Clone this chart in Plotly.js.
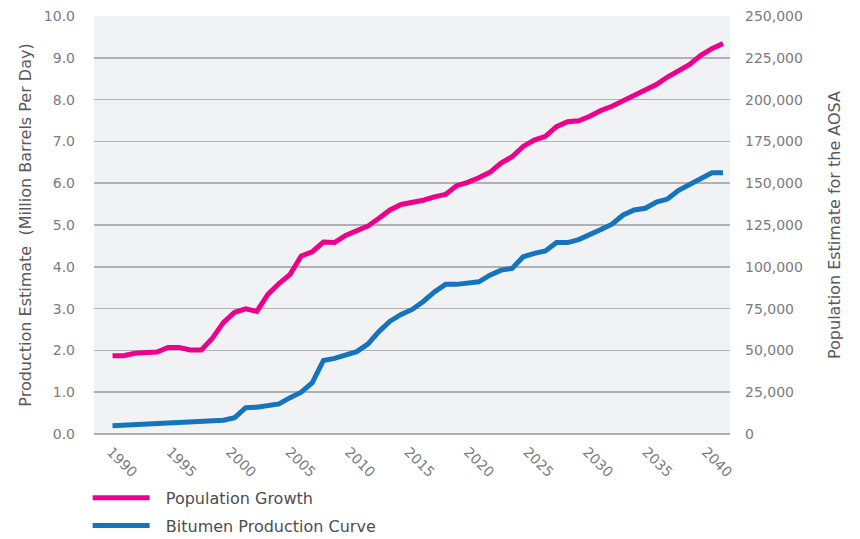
<!DOCTYPE html>
<html>
<head>
<meta charset="utf-8">
<script src="https://cdn.plot.ly/plotly-3.0.1.min.js"></script>
<style>
  html, body { margin: 0; padding: 0; background: #ffffff; }
  #chart { width: 860px; height: 539px; }
</style>
</head>
<body>
<div id="chart"></div>
<script>
// ---- data ----
// point positions along the time axis (the drawn curve has 56 evenly spaced points)
const pointIndex = [0,1,2,3,4,5,6,7,8,9,10,11,12,13,14,15,16,17,18,19,20,21,22,23,24,25,26,27,
  28,29,30,31,32,33,34,35,36,37,38,39,40,41,42,43,44,45,46,47,48,49,50,51,52,53,54,55];

// Population estimate for the AOSA (right axis)
const populationGrowth = [46800,46800,48300,49000,49000,51800,51800,50300,50300,57300,66800,72800,
  74800,73300,83500,90000,95500,106500,109000,114800,114500,118800,121300,124300,129000,134000,
  137300,138500,139800,141800,143300,148500,150500,153300,156500,162000,165800,172000,175800,
  178000,183800,186800,187300,190000,193500,196000,199300,202500,205500,209000,213500,217500,
  221000,226500,230500,233500];

// Bitumen production (million barrels per day, left axis)
const bitumenProduction = [0.20,0.21,0.22,0.23,0.26,0.265,0.27,0.29,0.31,0.32,0.33,0.39,0.63,
  0.64,0.67,0.72,0.87,1.00,1.23,1.76,1.81,1.88,1.97,2.15,2.45,2.70,2.86,2.98,3.17,3.40,3.58,3.58,
  3.62,3.64,3.80,3.92,3.96,4.24,4.32,4.38,4.58,4.58,4.65,4.76,4.89,5.02,5.24,5.36,5.40,5.55,5.62,
  5.83,5.97,6.11,6.25,6.25];

// tick labels
const tickYears = [1990,1995,2000,2005,2010,2015,2020,2025,2030,2035,2040];
const tickYearLabels = ["1990","1995","2000","2005","2010","2015","2020","2025","2030","2035","2040"];
const leftTicks = [0,1,2,3,4,5,6,7,8,9,10];
const rightTicks = [0,25000,50000,75000,100000,125000,150000,175000,200000,225000,250000];

const seriesNames = ["Population Growth", "Bitumen Production Curve"];

// ---- styles ----
const PINK = "#ec008c";
const BLUE = "#1474bd";
const GRID = "#b0b1b3";
const TICK_COLOR = "#7a7b7e";
const TITLE_COLOR = "#58595b";
const FONT = "DejaVu Sans, Liberation Sans, sans-serif";
const LEGEND_GAP = "\u2002\u2009";

const traces = [
  {
    type: "scatter", mode: "lines", name: LEGEND_GAP + seriesNames[0], legendgroup: "pop",
    x: pointIndex, y: populationGrowth, xaxis: "x", yaxis: "y2",
    line: { color: PINK, width: 5, shape: "linear" }, hoverinfo: "skip"
  },
  {
    type: "scatter", mode: "lines", name: LEGEND_GAP + seriesNames[1], legendgroup: "bit",
    x: pointIndex, y: bitumenProduction, xaxis: "x", yaxis: "y",
    line: { color: BLUE, width: 5, shape: "linear" }, hoverinfo: "skip"
  },
  {
    // carrier for the year-label axis
    type: "scatter", mode: "lines", x: tickYears, y: tickYears.map(() => null),
    xaxis: "x2", yaxis: "y", showlegend: false, hoverinfo: "skip"
  }
];

const layout = {
  width: 860, height: 539,
  margin: { l: 94, r: 130, t: 16, b: 105, pad: 0 },
  paper_bgcolor: "#ffffff",
  plot_bgcolor: "#f1f2f4",
  font: { family: FONT, size: 14, color: TICK_COLOR },
  showlegend: true,
  legend: {
    orientation: "v", x: -0.01, xanchor: "left",
    yref: "container", y: 0.108, yanchor: "top",
    font: { family: FONT, size: 16, color: "#4d4d4f" },
    bgcolor: "rgba(0,0,0,0)", itemwidth: 57, tracegroupgap: 4
  },
  xaxis: {
    range: [-1.67, 55.63], showticklabels: false, showgrid: false,
    zeroline: false, showline: false, ticks: "", fixedrange: true
  },
  xaxis2: {
    overlaying: "x", side: "bottom", range: [1988.57, 2042.02],
    tickmode: "array", tickvals: tickYears, ticktext: tickYearLabels,
    tickangle: 45, showgrid: false, zeroline: false, showline: false, ticks: "",
    ticklabelstandoff: 6,
    tickfont: { family: FONT, size: 14, color: TICK_COLOR }
  },
  yaxis: {
    range: [0, 10], tickmode: "array", tickvals: leftTicks, tickformat: ".1f",
    showgrid: true, gridcolor: GRID, gridwidth: 1.5,
    zeroline: true, zerolinecolor: GRID, zerolinewidth: 1.5,
    showline: false, ticks: "", ticklabelstandoff: 18,
    tickfont: { family: FONT, size: 14, color: TICK_COLOR },
    title: { text: "Production Estimate \u00a0(Million Barrels Per Day)",
             font: { family: FONT, size: 16, color: TITLE_COLOR }, standoff: 8 }
  },
  yaxis2: {
    overlaying: "y", side: "right", range: [0, 250000],
    tickmode: "array", tickvals: rightTicks, tickformat: ",d",
    showgrid: false, zeroline: false, showline: false, ticks: "", ticklabelstandoff: 14,
    tickfont: { family: FONT, size: 14, color: TICK_COLOR },
    title: { text: "Population Estimate for the AOSA",
             font: { family: FONT, size: 16, color: TITLE_COLOR }, standoff: 26 }
  }
};

Plotly.newPlot("chart", traces, layout, { staticPlot: true, displayModeBar: false });
</script>
</body>
</html>
